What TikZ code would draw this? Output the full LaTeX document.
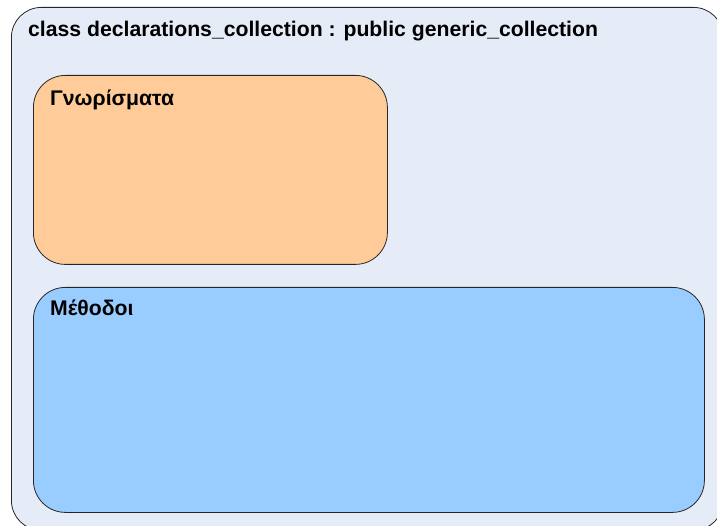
\documentclass[tikz,border=0pt]{standalone}
\usepackage{fontspec}
\setmainfont{Liberation Sans}
\usepackage{xcolor}
\definecolor{classbg}{HTML}{E6ECF7}
\definecolor{attrbg}{HTML}{FFCC99}
\definecolor{methbg}{HTML}{99CCFF}
\begin{document}
\begin{tikzpicture}[x=1pt,y=-1pt]
     \tikzstyle{panel}=[draw=black!85,line width=0.8pt,rounded corners=32pt,inner sep=0pt,anchor=north west]
     \tikzstyle{title}=[anchor=base west,inner sep=0pt,font=\bfseries\fontsize{21.2}{23}\selectfont]
     \useasboundingbox (0,0) rectangle (717,526);
     \clip (0,0) rectangle (717,526);
     % outer class box, runs past the right and bottom edge
     \node[panel,fill=classbg,rounded corners=30pt,minimum width=712pt,minimum height=523pt] (cls) at (11,7) {};
     \node[panel,fill=attrbg,minimum width=354pt,minimum height=189pt] (attr) at (33,75) {};
     \node[panel,fill=methbg,minimum width=671pt,minimum height=225pt] (meth) at (33,287) {};
     % titles
     \node[title] (clsname) at (28,36.5) {class declarations\_collection : public generic\_collection};
     \node[title] (attrname) at (50,105.5) {Γνωρίσματα};
     \node[title] (methname) at (50,315.5) {Μέθοδοι};
\end{tikzpicture}
\end{document}
